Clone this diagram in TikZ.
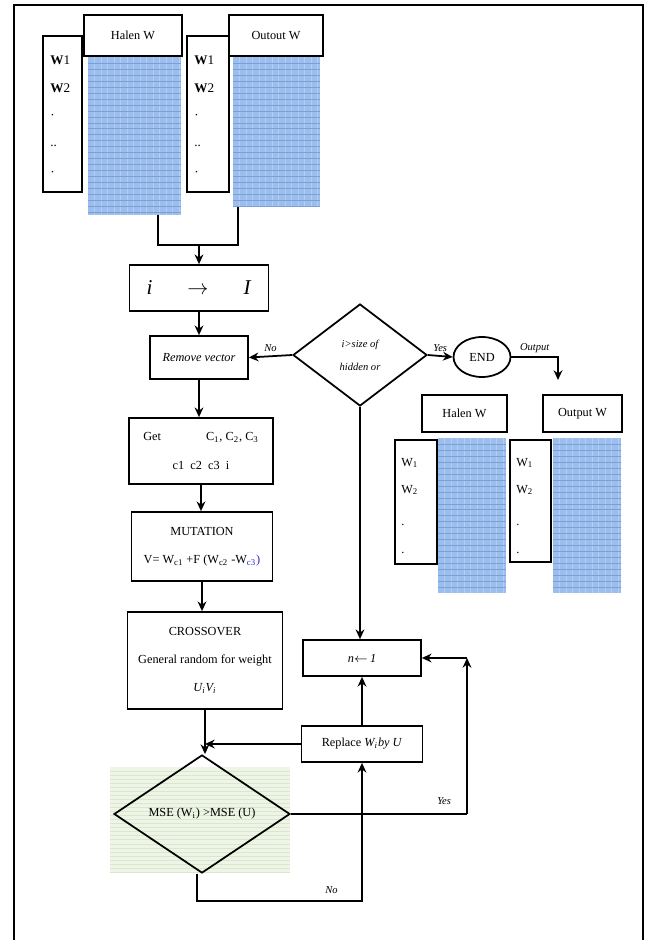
\documentclass[tikz,border=0pt]{standalone}
\usepackage{fontspec}
\setmainfont{Liberation Serif}
\usetikzlibrary{shapes.geometric, arrows.meta, calc}
\definecolor{gridblue}{RGB}{155, 190, 236}
\definecolor{gridline}{RGB}{122, 160, 218}
\definecolor{gridvline}{RGB}{180, 205, 242}
\definecolor{shadegreen}{RGB}{239, 245, 230}
\definecolor{shadeline}{RGB}{218, 230, 205}
\definecolor{typoblue}{RGB}{40, 40, 200}

\tikzset{
  procbox/.style={draw, line width=1pt, inner sep=0pt, align=center, font=\fontsize{7}{9}\selectfont},
  listbox/.style={draw, line width=1pt, inner sep=0pt},
  decision/.style={draw, diamond, line width=1pt, inner sep=0pt, align=center},
  gridcell/.style={fill=gridblue, inner sep=0pt,
    path picture={
      \foreach \k in {1,...,30}
        \draw[gridvline, line width=0.2pt] ([xshift=\k*3.7pt]path picture bounding box.north west) -- ++(0,400);
      \foreach \k in {1,...,40}
        \draw[gridline, line width=0.25pt] ([yshift=-\k*3.4pt]path picture bounding box.north west) -- ++(200,0);
    }},
  shadebox/.style={fill=shadegreen, inner sep=0pt,
    path picture={
      \foreach \k in {1,...,40}
        \draw[shadeline, line width=0.3pt] ([yshift=-\k*2.3pt]path picture bounding box.north west) -- ++(300,0);
    }},
  wtext/.style={anchor=west, inner sep=0pt, font=\fontsize{7.5}{9}\selectfont},
  flow/.style={line width=1pt, -{Stealth[length=5.5pt, width=5pt]}},
  link/.style={line width=1pt},
  lbl/.style={font=\fontsize{6}{7}\selectfont\itshape, inner sep=2pt},
}

\begin{document}
\begin{tikzpicture}[x=0.02cm, y=-0.02cm]
  \useasboundingbox (0,0) rectangle (650,940);
  % page frame
  \draw[line width=0.8pt] (14,940) -- (14,5) -- (643,5) -- (643,940);

  % Top: input weight tables
  \node[gridcell, minimum width=1.86cm, minimum height=3.16cm] (gridA) at (134.5,136) {};
  \node[gridcell, minimum width=1.74cm, minimum height=3.0cm] (gridB) at (276.5,132) {};
  \node[listbox, minimum width=0.78cm, minimum height=3.12cm] (wlistA) at (62.5,114) {};
  \node[listbox, minimum width=0.84cm, minimum height=3.12cm] (wlistB) at (208,114) {};
  \node[procbox, minimum width=1.96cm, minimum height=0.82cm] (hdrA) at (133,35.5) {Halen W};
  \node[procbox, minimum width=1.88cm, minimum height=0.82cm] (hdrB) at (276,35.5) {Outout W};
  \foreach \t/\y in {\textbf{W}1/60, \textbf{W}2/88, ·/117, ../146, ·/174} {
    \node[wtext] at (50,\y) {\t};
    \node[wtext] at (194,\y) {\t};
  }

  % join below the tables
  \coordinate (joinL) at (158,245);
  \coordinate (joinR) at (238,245);
  \draw[link] (joinL |- gridA.south) -- (joinL) -- (joinR) -- (joinR |- gridB.south);

  % Main column
  \node[procbox, minimum width=2.78cm, minimum height=0.92cm, font=\fontsize{12}{14}\selectfont] (loopB) at (199,288)
    {\textit{i}\hspace{0.7cm}$\rightarrow$\hspace{0.7cm}\textit{I}};
  \node[procbox, minimum width=1.96cm, minimum height=0.86cm, font=\fontsize{7}{9}\selectfont\itshape] (remv) at (199,357.5) {Remove vector};
  \node[procbox, minimum width=2.88cm, minimum height=1.32cm] (getB) at (201,451)
    {Get\hspace{0.9cm}C\textsubscript{1}, C\textsubscript{2}, C\textsubscript{3}\\[7pt] c1 \ c2 \ c3 \ i};
  \node[procbox, minimum width=2.82cm, minimum height=1.38cm] (mutB) at (202,546.5)
    {MUTATION\\[7pt] V= W\textsubscript{c1} +F (W\textsubscript{c2} -W\textsubscript{\textcolor{typoblue}{c3}}\textcolor{typoblue}{)}};
  \node[procbox, minimum width=3.1cm, minimum height=1.94cm] (crossB) at (205,660.5)
    {CROSSOVER\\[7pt] General random for weight\\[7pt] \textit{U\textsubscript{i}V\textsubscript{i}}};
  \node[shadebox, minimum width=3.6cm, minimum height=2.1cm] (shade) at (200,819.5) {};
  \node[decision, minimum width=3.52cm, minimum height=1.9cm, font=\fontsize{7}{9}\selectfont] (mseD) at (202,814)
    {MSE (W\textsubscript{i}) >MSE (U)};

  % Right column
  \node[decision, minimum width=2.68cm, minimum height=2.04cm, font=\fontsize{6}{7}\selectfont\itshape] (cond) at (360,355)
    {i>size of\\[6pt] hidden or};
  \node[draw, ellipse, line width=1pt, inner sep=0pt, minimum width=1.14cm, minimum height=0.8cm,
    font=\fontsize{7}{9}\selectfont] (endE) at (482,357) {END};
  \node[procbox, minimum width=2.36cm, minimum height=0.72cm] (nB) at (362,658) {\textit{n}$\leftarrow$\,\textit{1}};
  \node[procbox, minimum width=2.42cm, minimum height=0.72cm] (replB) at (362,744) {Replace \textit{W\textsubscript{i}by U}};

  % Output weight tables
  \node[gridcell, minimum width=1.36cm, minimum height=3.1cm] (gridC) at (472,515.5) {};
  \node[gridcell, minimum width=1.36cm, minimum height=3.1cm] (gridD) at (587,515.5) {};
  \node[listbox, minimum width=0.84cm, minimum height=2.48cm] (wlistC) at (416,502) {};
  \node[listbox, minimum width=0.82cm, minimum height=2.44cm] (wlistD) at (530.5,501) {};
  \node[procbox, minimum width=1.7cm, minimum height=0.74cm] (hdrC) at (464.5,413.5) {Halen W};
  \node[procbox, minimum width=1.58cm, minimum height=0.74cm] (hdrD) at (582.5,413.5) {Output W};
  \foreach \t/\y in {W\textsubscript{1}/463, W\textsubscript{2}/490, ./525, ./553} {
    \node[wtext, font=\fontsize{7}{9}\selectfont] at (401,\y) {\t};
    \node[wtext, font=\fontsize{7}{9}\selectfont] at (516,\y) {\t};
  }
  \coordinate (outTip) at (558,380);

  % Connectors
  \draw[flow] (loopB.north |- joinL) -- (loopB.north);
  \draw[flow] (loopB.south) -- (loopB.south |- remv.north);
  \draw[flow] (remv.south) -- (remv.south |- getB.north);
  \draw[flow] (getB.south) -- (getB.south |- mutB.north);
  \draw[flow] (mutB.south) -- (mutB.south |- crossB.north);
  \draw[flow] (crossB.south) -- (crossB.south |- mseD.north);
  \draw[flow] (cond.west) -- (remv.east) node[lbl, midway, above] {No};
  \draw[flow] (cond.east) -- (endE.west) node[lbl, midway, above] {Yes};
  \draw[flow] (endE.east) -| (outTip) node[lbl, pos=0.25, above] {Output};
  \draw[flow] (cond.south) -- (cond.south |- nB.north);
  \draw[flow] (replB.north) -- (replB.north |- nB.south);
  \draw[flow] (replB.west) -- (crossB.south |- replB.west);

  % Yes / No branches of the MSE test
  \coordinate (yesR) at (467,814);
  \coordinate (noBase) at (197,901);
  \draw[link] (mseD.east) -- (yesR) node[lbl, pos=0.87, above=3pt] {Yes};
  \draw[flow] (yesR) -- (yesR |- nB.east);
  \draw[flow] (yesR |- nB.east) -- (nB.east);
  \draw[flow] (noBase |- mseD.south) -- (noBase) -| (replB.south)
    node[lbl, pos=0.45, above left=2pt] {No};
\end{tikzpicture}
\end{document}
